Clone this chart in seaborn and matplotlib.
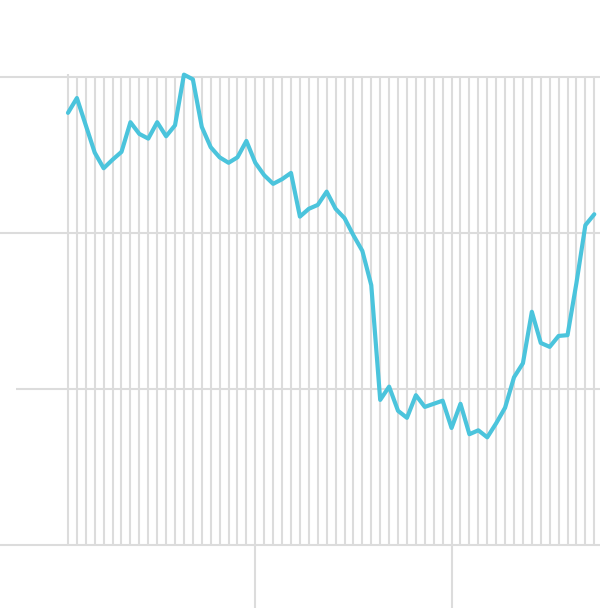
import numpy as np
import pandas as pd
import matplotlib.pyplot as plt
import seaborn as sns

sns.set_style("white")

# values (one per period)
values = [55.4, 57.3, 53.8, 50.3, 48.3, 49.4, 50.4, 54.2, 52.7, 52.1,
          54.2, 52.4, 53.8, 60.3, 59.7, 53.6, 51.0, 49.7, 49.0, 49.7,
          51.8, 49.0, 47.4, 46.3, 46.9, 47.7, 42.1, 43.1, 43.6, 45.3,
          43.1, 41.9, 39.7, 37.7, 33.3, 18.6, 20.3, 17.2, 16.3, 19.2,
          17.7, 18.1, 18.5, 15.0, 18.1, 14.2, 14.7, 13.8, 15.6, 17.6,
          21.5, 23.3, 29.9, 25.9, 25.4, 26.8, 26.9, 33.6, 41.0, 42.4]
periods = np.arange(len(values))
y_grid = [0, 20, 40, 60]
major_ticks = [21, 43]

df = pd.DataFrame({"period": periods, "value": values})

fig = plt.figure(figsize=(6, 6.08), dpi=100)
ax = fig.add_axes([0, 0, 1, 1])

grid_c = "#dcdcdc"
# horizontal grid
for g in y_grid:
    start = -5.83 if g == 20 else -7.7
    ax.hlines(g, start, 59.8, color=grid_c, lw=1.5, zorder=1)
# one vertical line per period
ax.vlines(periods, 0, 60, color=grid_c, lw=1.5, zorder=1)
ax.vlines(0, 60, 60.4, color=grid_c, lw=1.5, zorder=1)
# longer ticks below the plot
ax.vlines(major_ticks, -9, 0, color=grid_c, lw=1.5, zorder=1)

sns.lineplot(data=df, x="period", y="value", color="#4bc4dc", lw=3.0, ax=ax, zorder=3)

ax.set_xlim(-7.62, 59.64)
ax.set_ylim(-8.08, 69.87)
ax.set_xlabel("")
ax.set_ylabel("")
ax.set_xticks([])
ax.set_yticks([])
for s in ax.spines.values():
    s.set_visible(False)

plt.savefig("out.png", dpi=100)
